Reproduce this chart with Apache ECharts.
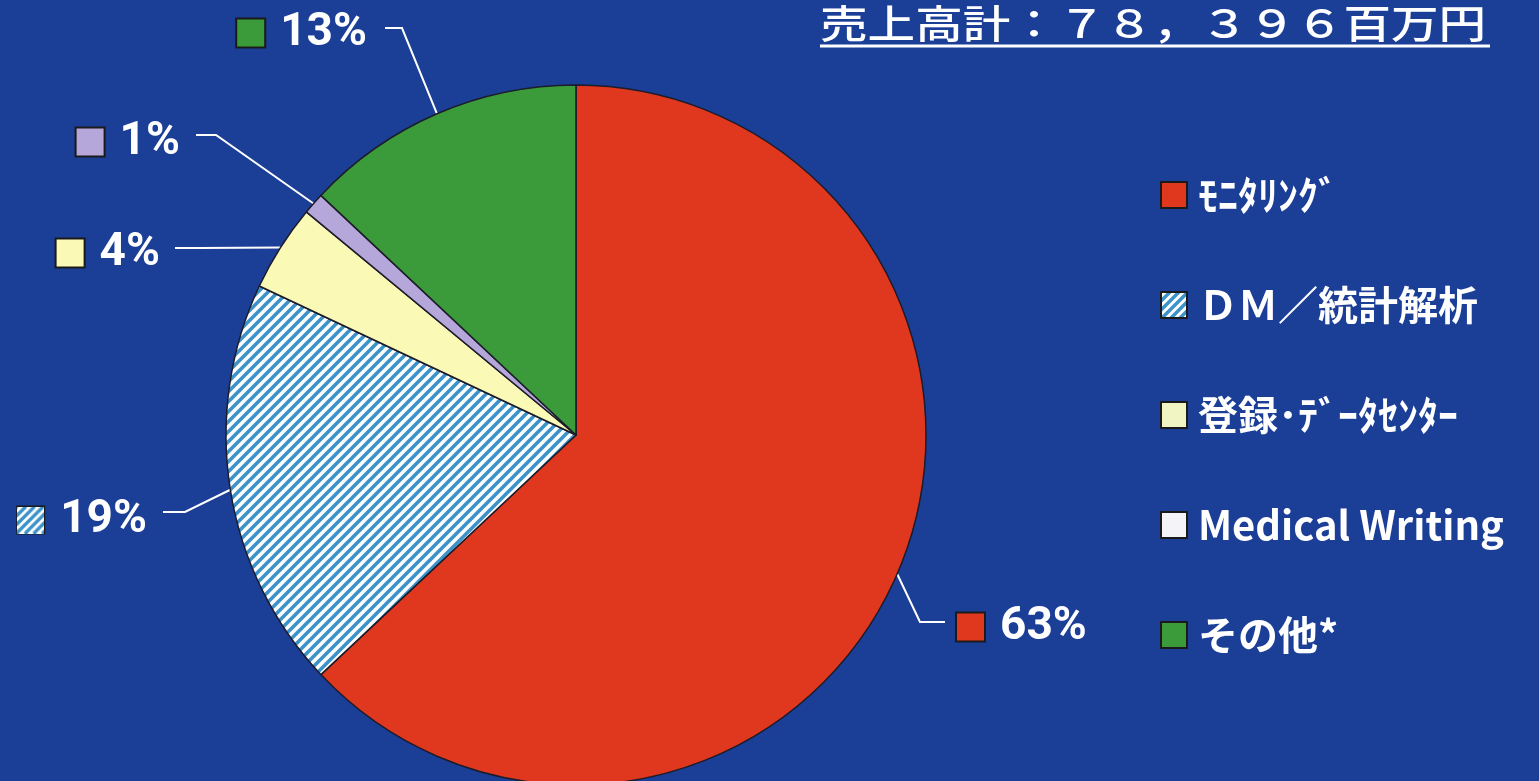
<!DOCTYPE html>
<html><head><meta charset="utf-8">
<script src="https://cdn.jsdelivr.net/npm/echarts@6/dist/echarts.min.js"></script>
<style>html,body{margin:0;padding:0;background:#1b3e97;}#c{width:1539px;height:781px;}</style>
</head><body><div id="c"></div>
<script>
// ---- data ----
const categories = ['ﾓﾆﾀﾘﾝｸﾞ', 'ＤＭ／統計解析', '登録･ﾃﾞｰﾀｾﾝﾀｰ', 'Medical Writing', 'その他*'];
const shares = [63, 19, 4, 1, 13];
const titleText = '売上高計：７８，３９６百万円';

// ---- styles / layout ----
function hatch(size, stripe, bg, lw) {
  const c = document.createElement('canvas');
  c.width = size; c.height = size;
  const g = c.getContext('2d');
  g.fillStyle = bg; g.fillRect(0, 0, size, size);
  g.strokeStyle = stripe; g.lineWidth = lw;
  g.beginPath();
  g.moveTo(0, size); g.lineTo(size, 0);
  g.moveTo(-size / 2, size / 2); g.lineTo(size / 2, -size / 2);
  g.moveTo(size / 2, size * 1.5); g.lineTo(size * 1.5, size / 2);
  g.stroke();
  return c;
}
const hatchCanvas = hatch(10, '#3d93c9', '#ffffff', 3.6);
function hatchBox() {
  const c = document.createElement('canvas');
  c.width = 28; c.height = 28;
  const g = c.getContext('2d');
  g.fillStyle = '#ffffff'; g.fillRect(0, 0, 28, 28);
  g.strokeStyle = '#3d93c9'; g.lineWidth = 3.5;
  g.beginPath();
  for (let k = -28; k <= 56; k += 9) { g.moveTo(k, 28); g.lineTo(k + 28, 0); }
  g.stroke();
  return c;
}
const hatchBoxCanvas = hatchBox();
const sliceColors = ['#e0381f', { image: hatchCanvas, repeat: 'repeat' }, '#fbf9b6', '#b6a7da', '#3b9b3a'];
const boxColors = ['#e0381f', { image: hatchBoxCanvas }, '#fbf9b6', '#b6a7da', '#3b9b3a'];
const legendColors = ['#e0381f', { image: hatchBoxCanvas }, '#f1f5c4', '#f4f4f8', '#3b9b3a'];
const labelPos = [
  { x: 957, y: 627, align: 'left', line: [[920, 622], [945, 622]] },
  { x: 147, y: 520, align: 'right', line: [[185, 512], [163, 512]] },
  { x: 160, y: 253, align: 'right', line: [[200, 248], [175, 248]] },
  { x: 180, y: 142, align: 'right', line: [[216, 135], [196, 135]] },
  { x: 367, y: 33, align: 'right', line: [[402, 28], [385, 28]] }
];

const rich = { gap: { width: 16 }, pct: { color: '#ffffff', fontSize: 46, fontWeight: 'bold',
  fontFamily: '"Liberation Sans Narrow","Roboto",sans-serif' } };
boxColors.forEach((c, i) => {
  rich['b' + i] = { width: 27, height: 27, backgroundColor: c, borderColor: '#1a1a1a', borderWidth: 2 };
});

const chart = echarts.init(document.getElementById('c'));
chart.setOption({
  backgroundColor: '#1b3e97',
  animation: false,
  graphic: [
    { type: 'text', x: 820, y: 4, scaleX: 1.22, originX: 0, originY: 0, style: {
      text: titleText, fill: '#ffffff', font: '500 39px "Noto Sans CJK JP"' } },
    { type: 'line', shape: { x1: 820, y1: 46, x2: 1490, y2: 46 }, style: { stroke: '#ffffff', lineWidth: 3 } }
  ],
  legend: {
    orient: 'vertical', left: 1155, top: 169, itemGap: 68, itemWidth: 26, itemHeight: 26,
    icon: 'rect', selectedMode: false,
    itemStyle: { borderColor: '#1a1a1a', borderWidth: 2 },
    textStyle: { color: '#ffffff', fontSize: 40, lineHeight: 42, fontWeight: 'bold',
      fontFamily: '"Noto Sans CJK JP"', padding: [0, 0, 0, 6] },
    data: categories.map((n, i) => ({ name: n, itemStyle: { color: legendColors[i] } }))
  },
  series: [{
    type: 'pie', center: [576, 435], radius: 350, startAngle: 90, clockwise: true,
    itemStyle: { borderColor: '#1c1c2a', borderWidth: 1.5 },
    emphasis: { disabled: true },
    label: {
      show: true,
      formatter: p => '{b' + p.dataIndex + '|}{gap|}{pct|' + p.value + '%}',
      rich: rich
    },
    labelLine: { show: true, lineStyle: { color: '#ffffff', width: 2 } },
    labelLayout: function (params) {
      const lp = labelPos[params.dataIndex];
      const p0 = params.labelLinePoints ? params.labelLinePoints[0] : lp.line[0];
      return { x: lp.x, y: lp.y, align: lp.align, verticalAlign: 'middle',
        labelLinePoints: [p0, lp.line[0], lp.line[1]] };
    },
    data: categories.map((n, i) => ({ name: n, value: shares[i], itemStyle: { color: sliceColors[i] } }))
  }]
});
</script></body></html>
